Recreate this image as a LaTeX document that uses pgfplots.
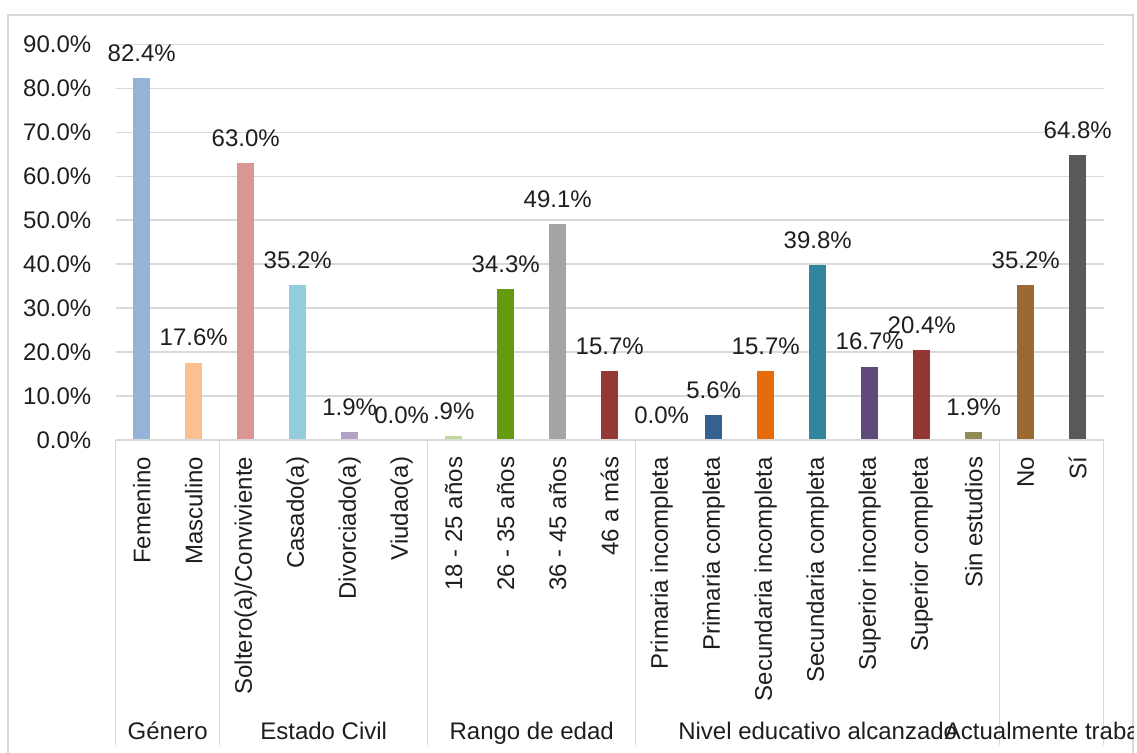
\documentclass[border=0pt]{standalone}
\usepackage{pgfplots}
\pgfplotsset{compat=1.18}
\usepackage{fontspec}
\setmainfont{Liberation Sans}
\newcommand\lbl{\fontsize{12}{14}\selectfont}
\definecolor{txt}{HTML}{1E1E1E}
\definecolor{gridc}{HTML}{D9D9D9}
\definecolor{c0}{HTML}{95B3D7}
\definecolor{c1}{HTML}{FAC090}
\definecolor{c2}{HTML}{D99694}
\definecolor{c3}{HTML}{93CDDD}
\definecolor{c4}{HTML}{B3A2C7}
\definecolor{c5}{HTML}{FCD5B5}
\definecolor{c6}{HTML}{C3D69B}
\definecolor{c7}{HTML}{649B0C}
\definecolor{c8}{HTML}{A5A5A5}
\definecolor{c9}{HTML}{953735}
\definecolor{c10}{HTML}{8EB4E3}
\definecolor{c11}{HTML}{366092}
\definecolor{c12}{HTML}{E46C0A}
\definecolor{c13}{HTML}{31859C}
\definecolor{c14}{HTML}{604A7B}
\definecolor{c15}{HTML}{943634}
\definecolor{c16}{HTML}{948A54}
\definecolor{c17}{HTML}{9C6932}
\definecolor{c18}{HTML}{595959}
\begin{document}
\begin{tikzpicture}[x=1pt,y=1pt]
\useasboundingbox (0,0) rectangle (568.5,376);
\draw[gridc, line width=0.6pt] (4,368.5) rectangle (566.5,-6);
\begin{axis}[
  at={(57.85pt,156pt)}, anchor=south west,
  scale only axis, width=494pt, height=197.85pt,
  xmin=-0.5, xmax=18.5, ymin=0, ymax=90,
  clip=false,
  ybar, bar width=8.5pt, bar shift=0pt,
  axis line style={draw=none},
  major tick style={draw=none},
  ytick={0,10,...,90},
  ymajorgrids, grid style={color=gridc, line width=0.7pt},
  /pgf/number format/assume math mode=true,
  yticklabel={\pgfmathprintnumber[fixed,fixed zerofill,precision=1]{\tick}\%},
  yticklabel style={font=\lbl, text=txt, inner sep=0pt, anchor=east},
  yticklabel shift=12pt,
  xtick={0,...,18},
  xticklabels={Femenino,Masculino,Soltero(a)/Conviviente,Casado(a),Divorciado(a),Viudao(a),18 - 25 años,26 - 35 años,36 - 45 años,46 a más,Primaria incompleta,Primaria completa,Secundaria incompleta,Secundaria completa,Superior incompleta,Superior completa,Sin estudios,No,Sí},
  xticklabel style={font=\lbl, text=txt, rotate=90, anchor=east, inner sep=0pt},
  xticklabel shift=4pt,
  nodes near coords, point meta=explicit symbolic,
  every node near coord/.append style={font=\lbl, text=txt, inner sep=0pt, anchor=south, yshift=8pt},
  after end axis/.code={
    \draw[gridc, line width=0.7pt] (axis cs:-0.5,0) -- (axis cs:18.5,0);
    \draw[gridc, line width=0.7pt] (axis cs:-0.5,0) -- ++(0,-152.5pt);
    \draw[gridc, line width=0.7pt] (axis cs:1.5,0) -- ++(0,-152.5pt);
    \draw[gridc, line width=0.7pt] (axis cs:5.5,0) -- ++(0,-152.5pt);
    \draw[gridc, line width=0.7pt] (axis cs:9.5,0) -- ++(0,-152.5pt);
    \draw[gridc, line width=0.7pt] (axis cs:16.5,0) -- ++(0,-152.5pt);
    \draw[gridc, line width=0.7pt] (axis cs:18.5,0) -- ++(0,-152.5pt);
    \coordinate (g1) at (axis cs:0.5,0);
    \coordinate (g2) at (axis cs:3.5,0);
    \coordinate (g3) at (axis cs:7.5,0);
    \coordinate (g4) at (axis cs:13,0);
    \coordinate (g5) at (axis cs:17.5,0);
  },
]
\addplot[fill=c0, draw=none] coordinates {(0,82.4) [82.4\%]};
\addplot[fill=c1, draw=none] coordinates {(1,17.6) [17.6\%]};
\addplot[fill=c2, draw=none] coordinates {(2,63.0) [63.0\%]};
\addplot[fill=c3, draw=none] coordinates {(3,35.2) [35.2\%]};
\addplot[fill=c4, draw=none] coordinates {(4,1.9) [1.9\%]};
\addplot[fill=c5, draw=none] coordinates {(5,0) [0.0\%]};
\addplot[fill=c6, draw=none] coordinates {(6,0.9) [.9\%]};
\addplot[fill=c7, draw=none] coordinates {(7,34.3) [34.3\%]};
\addplot[fill=c8, draw=none] coordinates {(8,49.1) [49.1\%]};
\addplot[fill=c9, draw=none] coordinates {(9,15.7) [15.7\%]};
\addplot[fill=c10, draw=none] coordinates {(10,0) [0.0\%]};
\addplot[fill=c11, draw=none] coordinates {(11,5.6) [5.6\%]};
\addplot[fill=c12, draw=none] coordinates {(12,15.7) [15.7\%]};
\addplot[fill=c13, draw=none] coordinates {(13,39.8) [39.8\%]};
\addplot[fill=c14, draw=none] coordinates {(14,16.7) [16.7\%]};
\addplot[fill=c15, draw=none] coordinates {(15,20.4) [20.4\%]};
\addplot[fill=c16, draw=none] coordinates {(16,1.9) [1.9\%]};
\addplot[fill=c17, draw=none] coordinates {(17,35.2) [35.2\%]};
\addplot[fill=c18, draw=none] coordinates {(18,64.8) [64.8\%]};
\end{axis}
\begin{scope}
\clip (0,0) rectangle (566.5,376);
\node[anchor=base, inner sep=0pt, font=\lbl, text=txt] at ([yshift=-149.5pt]g1) {Género};
\node[anchor=base, inner sep=0pt, font=\lbl, text=txt] at ([yshift=-149.5pt]g2) {Estado Civil};
\node[anchor=base, inner sep=0pt, font=\lbl, text=txt] at ([yshift=-149.5pt]g3) {Rango de edad};
\node[anchor=base, inner sep=0pt, font=\lbl, text=txt] at ([yshift=-149.5pt]g4) {Nivel educativo alcanzado};
\node[anchor=base, inner sep=0pt, font=\lbl, text=txt] at ([yshift=-149.5pt]g5) {Actualmente trabaja};
\end{scope}
\end{tikzpicture}
\end{document}
